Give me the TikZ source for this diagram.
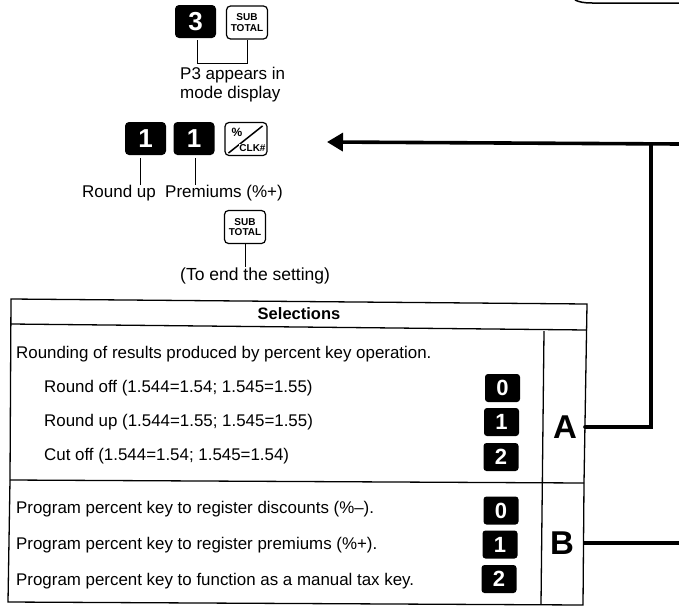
\documentclass[tikz,border=0pt]{standalone}
\usepackage{fontspec}
\setmainfont{Liberation Sans}
\usetikzlibrary{positioning, calc, arrows.meta}

\begin{document}
\begin{tikzpicture}[
    x=1pt, y=-1pt,
    blackkey/.style={fill=black, rounded corners=4pt, minimum width=41pt, minimum height=33pt, inner sep=0pt, text=white, font=\fontsize{26}{26}\selectfont\bfseries},
    smallkey/.style={fill=black, rounded corners=3pt, minimum width=35pt, minimum height=28pt, inner sep=0pt, text=white, font=\fontsize{22}{22}\selectfont\bfseries},
    subkey/.style={draw, line width=1.2pt, rounded corners=4pt, minimum width=41pt, minimum height=33pt, inner sep=0pt, align=center, font=\fontsize{10}{10.5}\selectfont\bfseries},
    label/.style={inner sep=0pt, font=\fontsize{17}{19}\selectfont},
    rowtext/.style={inner sep=0pt, anchor=west, font=\fontsize{16.9}{18}\selectfont},
    tick/.style={line width=1pt},
    rule/.style={line width=1.3pt},
    feed/.style={line width=3.6pt}
]
    \useasboundingbox (0,0) rectangle (679,605);

    % ================= KEY SEQUENCE =================
    \node[blackkey] (three) at (195.5, 21.5) {3};
    \node[subkey] (subone) at (247, 22.5) {SUB\\TOTAL};
    \node[label, align=left, anchor=north west] (pthree) at (180, 67) {P3 appears in\\mode display};

    \draw[tick] (three.south) ++(2,2) coordinate (threefoot) -- ++(0,23) -| (subone.south);

    \node[blackkey] (roundkey) at (145.5, 138.5) {1};
    \node[blackkey] (premkey) at (194, 138.5) {1};
    \node[subkey, minimum width=42pt] (clk) at (246, 139) {};
    \draw[line width=1.5pt] (clk.south west) ++(4,-3) coordinate (slashfoot) -- ($(clk.north east)+(-5,4)$);
    \node[inner sep=0pt, font=\fontsize{12}{12}\selectfont\bfseries] (pct) at (237, 132) {\%};
    \node[inner sep=0.5pt, fill=white, font=\fontsize{10}{10}\selectfont\bfseries] (clktext) at (252.5, 148) {CLK\#};

    \node[label, anchor=west] (roundup) at (82, 193.5) {Round up};
    \node[label, anchor=west] (premiums) at (165, 193.5) {Premiums (\%+)};
    \draw[tick] (140, 158) coordinate (roundtop) -- (roundtop |- roundup.north);
    \draw[tick] (195, 158) coordinate (premtop) -- (premtop |- premiums.north);

    \node[subkey] (subtwo) at (245, 227) {SUB\\TOTAL};
    \node[label, anchor=west, font=\fontsize{17.5}{19}\selectfont] (endset) at (180, 275.5) {(To end the setting)};
    \draw[tick] (subtwo.south) -- (subtwo.south |- endset.north);

    % ================= TABLE =================
    \coordinate (tl) at (11, 299);
    \coordinate (tr) at (587, 304);
    \coordinate (hl) at (11, 324);
    \coordinate (hr) at (587, 330);
    \coordinate (ml) at (10, 480);
    \coordinate (mr) at (584, 483);
    \coordinate (bl) at (8, 602);
    \coordinate (br) at (583, 605);
    \coordinate (cross) at (544, 331);
    \coordinate (foot) at (541, 604);

    \draw[rule] (tl) -- (tr) -- (mr) -- (br) -- (bl) -- (ml) -- cycle;
    \draw[rule] (hl) -- (hr);
    \draw[rule] (ml) -- (mr);
    \draw[rule] (cross) -- (foot);

    \node[inner sep=0pt, font=\fontsize{16.5}{18}\selectfont\bfseries] (selections) at (299, 314) {Selections};

    \node[rowtext] (rowround) at (16, 354.5) {Rounding of results produced by percent key operation.};
    \node[rowtext] (rowoff) at (44, 388.5) {Round off (1.544=1.54; 1.545=1.55)};
    \node[rowtext] (rowup) at (44, 422.5) {Round up (1.544=1.55; 1.545=1.55)};
    \node[rowtext] (rowcut) at (44, 456.5) {Cut off (1.544=1.54; 1.545=1.54)};
    \node[rowtext] (rowdisc) at (16, 509.5) {Program percent key to register discounts (\%--).};
    \node[rowtext] (rowprem) at (16, 545.5) {Program percent key to register premiums (\%+).};
    \node[rowtext] (rowtax) at (16, 581.5) {Program percent key to function as a manual tax key.};

    \node[smallkey] (azero) at (502.5, 388) {0};
    \node[smallkey] (aone) at (501.5, 422) {1};
    \node[smallkey] (atwo) at (501, 457) {2};
    \node[smallkey] (bzero) at (501, 510.5) {0};
    \node[smallkey] (bone) at (500, 544.5) {1};
    \node[smallkey] (btwo) at (499, 579) {2};

    \node[inner sep=0pt, font=\fontsize{33}{33}\selectfont\bfseries] (selA) at (565, 427) {A};
    \node[inner sep=0pt, font=\fontsize{33}{33}\selectfont\bfseries] (selB) at (562, 543) {B};

    % ================= FEED LINES =================
    \coordinate (aport) at (585, 427);
    \coordinate (bport) at (584, 543);
    \coordinate (bend) at (651, 427);
    \coordinate (junction) at (651, 144);
    \coordinate (rightA) at (679, 144);
    \coordinate (rightB) at (679, 543);
    \coordinate (arrowtip) at (327, 142);

    \draw[feed, line cap=round] (aport) -- (bend) -- (junction);
    \draw[feed] (bport) -- (rightB);
    \draw[feed, -{Stealth[length=16pt, width=18pt, inset=0pt]}] (rightA) -- (arrowtip);

    % corner of the box above
    \coordinate (capstart) at (575, 0);
    \coordinate (capend) at (679, 3);
    \draw[line width=1.5pt] (capstart) .. controls (579, 2) and (584, 3) .. (592, 3) -- (capend);
\end{tikzpicture}
\end{document}
